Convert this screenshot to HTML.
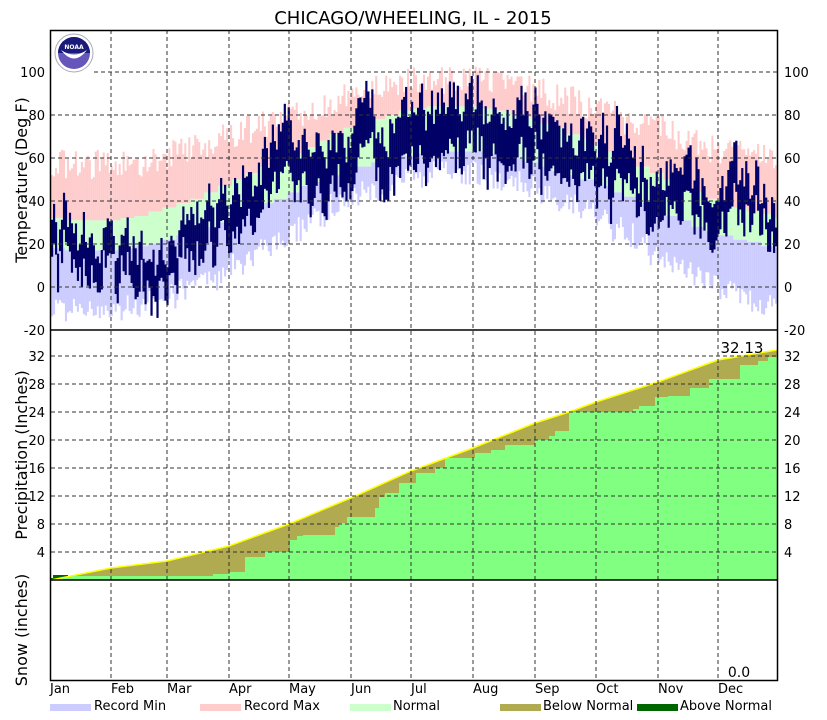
<!DOCTYPE html>
<html><head><meta charset="utf-8"><style>
html,body{margin:0;padding:0;background:#fff;}
svg{display:block;font-family:"DejaVu Sans","Liberation Sans",sans-serif;}
</style></head><body>
<svg id="s" width="827" height="720" xmlns="http://www.w3.org/2000/svg">
<text x="413" y="24" font-size="18" text-anchor="middle">CHICAGO/WHEELING, IL - 2015</text>
<g id="temp"></g>
<g id="prec"></g>
<g id="grid"></g>
<text x="742" y="353" font-size="15" text-anchor="middle">32.13</text>
<text x="739" y="677" font-size="14" text-anchor="middle">0.0</text>
<g font-size="13" fill="#000">
<text transform="translate(27,180) rotate(-90)" text-anchor="middle" font-size="16">Temperature (Deg F)</text>
<text transform="translate(27,455) rotate(-90)" text-anchor="middle" font-size="16">Precipitation (Inches)</text>
<text transform="translate(27,630) rotate(-90)" text-anchor="middle" font-size="16">Snow (inches)</text>
</g>
<g font-size="13">
<text x="50" y="693">Jan</text><text x="111" y="693">Feb</text><text x="167" y="693">Mar</text><text x="229" y="693">Apr</text>
<text x="289" y="693">May</text><text x="351" y="693">Jun</text><text x="411" y="693">Jul</text><text x="473" y="693">Aug</text>
<text x="535" y="693">Sep</text><text x="596" y="693">Oct</text><text x="658" y="693">Nov</text><text x="718" y="693">Dec</text>
</g>
<g font-size="13">
<rect x="50" y="704" width="41" height="7" fill="#ccccff"/><text x="94" y="710">Record Min</text>
<rect x="200" y="704" width="41" height="7" fill="#ffcccc"/><text x="244" y="710">Record Max</text>
<rect x="350" y="704" width="41" height="7" fill="#ccffcc"/><text x="393" y="710">Normal</text>
<rect x="500" y="704" width="41" height="7" fill="#b0aa50"/><text x="543" y="710">Below Normal</text>
<rect x="637" y="704" width="41" height="7" fill="#006600"/><text x="680" y="710">Above Normal</text>
</g>
<g transform="translate(74,53)">
<circle r="19" fill="#fff" stroke="#aab" stroke-width="1"/>
<circle r="16" fill="#6655bb"/>
<path d="M-16,0 A16,16 0 0 1 16,0 Z" fill="#1a1a7a"/>
<path d="M-13,-3 Q0,14 13,-3 Q0,6 -13,-3 Z" fill="#fff"/>
<text x="0" y="-4" font-size="6" fill="#fff" text-anchor="middle" font-weight="bold">NOAA</text>
</g>
</svg>
<script>
var NS="http://www.w3.org/2000/svg";
function el(p,t,a){var e=document.createElementNS(NS,t);for(var k in a)e.setAttribute(k,a[k]);p.appendChild(e);return e;}
var T=document.getElementById('temp'),P=document.getElementById('prec'),G=document.getElementById('grid');
var X0=51,DX=726/365;
function ty(v){return 287-v*2.15;}
var seed=12345;function rnd(){seed=(seed*16807)%2147483647;return seed/2147483647;}
var anom=[-5,-14,-4,4,3,0,-1,0,5,2,4,9];
var mstart=[0,31,59,90,120,151,181,212,243,273,304,334,365];
var walk=0;
var obs=[];
for(var d=0;d<365;d++){
  var wk=Math.floor(d/7)*7+3;
  var c=Math.cos(2*Math.PI*(wk-203)/365);
  var nh=Math.round(57.5+26.5*c), nl=Math.round(40+23*c);
  var rmx=nh+12+7*(-c)+rnd()*14, rmn=nl-(13+9*(-c))-rnd()*12;
  if(d>325){rmn=Math.min(rmn,nl-16-rnd()*10);}
  var x=X0+d*DX;
  el(T,'rect',{x:x,y:ty(rmx),width:DX+0.1,height:ty(nh)-ty(rmx),fill:'#ffcccc'});
  el(T,'rect',{x:x,y:ty(nh),width:DX+0.1,height:ty(nl)-ty(nh),fill:'#ccffcc'});
  el(T,'rect',{x:x,y:ty(nl),width:DX+0.1,height:ty(rmn)-ty(nl),fill:'#ccccff'});
  var m=0;while(d>=mstart[m+1])m++;
  walk=walk*0.65+(rnd()-0.5)*20;
  var a=anom[m]+walk;
  var hi=nh+a+(rnd()-0.5)*10, lo=nl+a+(rnd()-0.5)*10-3;
  if(hi-lo<4)hi=lo+4;
  obs.push([x,hi,lo]);
}
obs.forEach(function(o){el(T,'rect',{x:o[0],y:ty(o[1]),width:DX+0.2,height:ty(o[2])-ty(o[1]),fill:'#000066'});});
var nrm=[[51,580],[111,568],[167,561],[229,546],[289,524],[353,497],[411,471],[473,448],[535,423],[569,412],[596,402],[658,382],[718,360],[777,350]];
var act=[[51,578],[53,575],[68,576],[213,574],[230,572],[245,557],[265,552],[290,540],[297,536],[303,535],[335,527],[339,523],[347,517],[375,508],[379,497],[385,493],[399,483],[416,473],[435,468],[445,458],[475,453],[491,450],[505,445],[535,440],[549,436],[555,431],[569,412],[633,409],[639,406],[655,397],[668,396],[690,388],[709,379],[740,365],[758,361],[768,357]];
var ap="M51,580 ";for(var i=0;i<act.length;i++){var nx=i+1<act.length?act[i+1][0]:777;ap+="L"+act[i][0]+","+act[i][1]+" L"+nx+","+act[i][1]+" ";}ap+="L777,580 Z";
var np="M51,580 ";nrm.forEach(function(p){np+="L"+p[0]+","+p[1]+" ";});np+="L777,580 Z";
var defs=el(P,'defs',{});var cp=el(defs,'clipPath',{id:'nc'});el(cp,'path',{d:np});
el(P,'path',{d:ap,fill:'#006600'});
el(P,'path',{d:np,fill:'#b0aa50'});
el(P,'path',{d:ap,fill:'#80ff80','clip-path':'url(#nc)'});
var ln="M";nrm.forEach(function(p,i){ln+=(i?" L":"")+p[0]+","+p[1];});
el(P,'path',{d:ln,fill:'none',stroke:'#ffff00','stroke-width':1.5});
var months=[111,167,229,289,351,411,473,535,596,658,718];
months.forEach(function(x){el(G,'line',{x1:x,y1:30,x2:x,y2:680,stroke:'#333','stroke-dasharray':'4,3','stroke-width':1});});
[100,80,60,40,20,0].forEach(function(v){var y=ty(v);el(G,'line',{x1:v==100?94:51,y1:y,x2:777,y2:y,stroke:'#333','stroke-dasharray':'4,3'});});
for(var v=4;v<=32;v+=4){var y=580-v*7;el(G,'line',{x1:51,y1:y,x2:777,y2:y,stroke:'#333','stroke-dasharray':'4,3'});}
el(G,'rect',{x:50.5,y:30.5,width:727,height:650,fill:'none',stroke:'#000','stroke-width':1.5});
el(G,'line',{x1:50,y1:330,x2:778,y2:330,stroke:'#000','stroke-width':1.5});
el(G,'line',{x1:50,y1:580,x2:778,y2:580,stroke:'#000','stroke-width':1.5});
[100,80,60,40,20,0,-20].forEach(function(v){var y=ty(v)+5;
 var t=el(G,'text',{x:45,y:y,'font-size':13,'text-anchor':'end'});t.textContent=v;
 var t2=el(G,'text',{x:784,y:y,'font-size':13});t2.textContent=v;});
for(var v=4;v<=32;v+=4){var y=580-v*7+5;
 var t=el(G,'text',{x:45,y:y,'font-size':13,'text-anchor':'end'});t.textContent=v;
 var t2=el(G,'text',{x:784,y:y,'font-size':13});t2.textContent=v;}
</script>
</body></html>
